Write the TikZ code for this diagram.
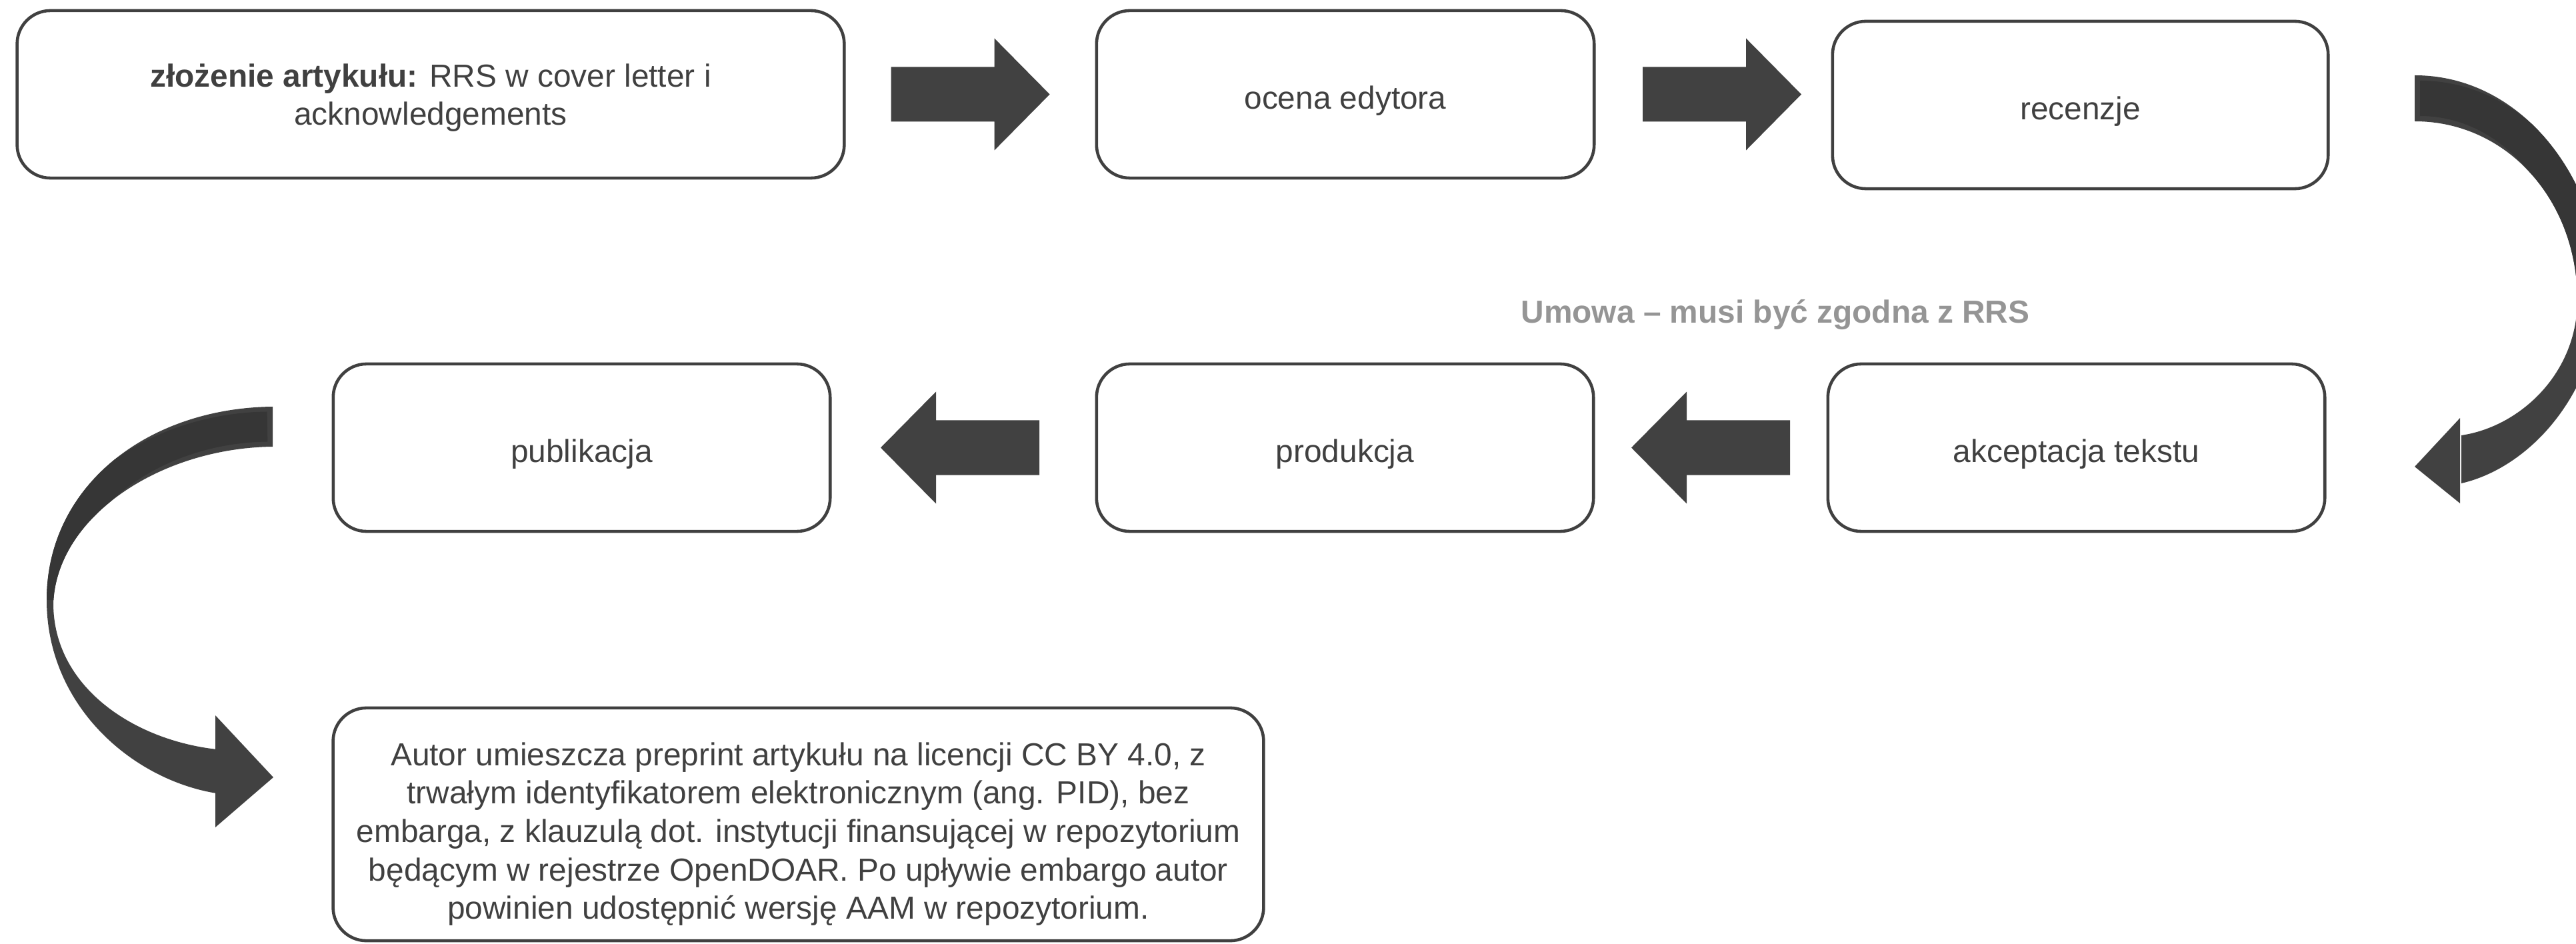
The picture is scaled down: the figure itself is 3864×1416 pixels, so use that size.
\documentclass[tikz,border=0pt]{standalone}
\usepackage{fontspec}
\setmainfont{Liberation Sans}
\usetikzlibrary{calc}
\definecolor{ink}{HTML}{404040}
\definecolor{arrowgray}{HTML}{414141}
\definecolor{arrowdark}{HTML}{363636}
\definecolor{notegray}{HTML}{959595}
\newcommand\boxfont{\fontsize{13.6}{16.4}\selectfont}
\tikzset{
  stepbox/.style={draw=ink, line width=1.3pt, rounded corners=0.5cm, text=ink,
    align=center, font=\boxfont, inner sep=0pt, minimum height=2.51cm},
  rightblock/.pic={\fill[arrowgray] (-119,-41) -- (36,-41) -- (36,-84) -- (119,0) -- (36,84) -- (36,41) -- (-119,41) -- cycle;},
  leftblock/.pic={\fill[arrowgray] (119,-41) -- (-36,-41) -- (-36,-84) -- (-119,0) -- (-36,84) -- (-36,41) -- (119,41) -- cycle;},
}
\begin{document}
\begin{tikzpicture}[x=0.01cm,y=-0.01cm]
\useasboundingbox (0,0) rectangle (3864,1416);

% boxes
\node[stepbox, minimum width=12.40cm] (submit) at (646,141.5)
  {\rule{0pt}{0.45cm}\textbf{złożenie artykułu:} RRS w cover letter i\\acknowledgements};
\node[stepbox, minimum width=7.46cm] (editor) at (2018,141.5) {\rule{0pt}{0.54cm}ocena edytora};
\node[stepbox, minimum width=7.43cm] (reviews) at (3120.5,157.5) {\rule{0pt}{0.54cm}recenzje};
\node[stepbox, minimum width=7.45cm] (accept) at (3114.5,671.5) {\rule{0pt}{0.54cm}akceptacja tekstu};
\node[stepbox, minimum width=7.45cm] (production) at (2017.5,671.5) {\rule{0pt}{0.54cm}produkcja};
\node[stepbox, minimum width=7.45cm] (publication) at (872.5,671.5) {\rule{0pt}{0.54cm}publikacja};
\node[stepbox, minimum width=13.95cm, minimum height=3.49cm] (aam) at (1197.5,1236.5)
  {\rule{0pt}{0.64cm}Autor umieszcza preprint artykułu na licencji CC BY 4.0, z\\
   trwałym identyfikatorem elektronicznym (ang. PID), bez\\
   embarga, z klauzulą dot. instytucji finansującej w repozytorium\\
   będącym w rejestrze OpenDOAR. Po upływie embargo autor\\
   powinien udostępnić wersję AAM w repozytorium.};

% label
\node[font=\bfseries\boxfont, text=notegray, anchor=base] (contract) at (2663,485)
  {Umowa – musi być zgodna z RRS};

% straight block arrows
\coordinate (m1) at ($(submit.east)!0.5!(editor.west)$);
\coordinate (m2) at ($(editor.east)!0.5!(reviews.west)+(13,0)$);
\coordinate (m3) at ($(production.east)!0.5!(accept.west)$);
\coordinate (m4) at ($(publication.east)!0.5!(production.west)+(-5,0)$);
\pic (a1) at (m1 |- editor.east) {rightblock};
\pic (a2) at (m2 |- editor.east) {rightblock};
\pic (a3) at (m3 |- accept.east) {leftblock};
\pic (a4) at (m4 |- accept.east) {leftblock};

% curved arrow: recenzje -> akceptacja tekstu
\begin{scope}
\clip (0,0) rectangle (3864,1416);
\fill[arrowgray] (3622,113) .. controls (3780,113) and (3893,262) .. (3902,420)
  .. controls (3904,580) and (3800,700) .. (3692,725) -- (3692,653)
  .. controls (3780,640) and (3866,560) .. (3866,450)
  .. controls (3866,300) and (3760,182) .. (3622,182) -- cycle;
\fill[arrowgray] (3690,627) -- (3622,700) -- (3690,755) -- cycle;
\clip (3622,113) .. controls (3780,113) and (3893,262) .. (3902,420)
  .. controls (3904,580) and (3800,700) .. (3692,725) -- (3692,653)
  .. controls (3780,640) and (3866,560) .. (3866,450)
  .. controls (3866,300) and (3760,182) .. (3622,182) -- cycle;
\draw[arrowdark, line width=0.53cm] (3630,147.5) .. controls (3770,147.5) and (3880,280) .. (3884,440);
\end{scope}

% curved arrow: publikacja -> bottom box
\begin{scope}
\fill[arrowgray] (409,610) .. controls (220,612) and (70,730) .. (70,900)
  .. controls (70,1060) and (200,1170) .. (325,1190) -- (325,1124)
  .. controls (200,1110) and (80,1030) .. (80,905)
  .. controls (85,775) and (240,672) .. (409,670) -- cycle;
\fill[arrowgray] (323,1073) -- (410,1166) -- (323,1241) -- cycle;
\clip (409,610) .. controls (220,612) and (70,730) .. (70,900)
  .. controls (70,1060) and (200,1170) .. (325,1190) -- (325,1124)
  .. controls (200,1110) and (80,1030) .. (80,905)
  .. controls (85,775) and (240,672) .. (409,670) -- cycle;
\draw[arrowdark, line width=0.45cm] (401,640) .. controls (230,642) and (77,752) .. (75,900);
\end{scope}
\end{tikzpicture}
\end{document}
